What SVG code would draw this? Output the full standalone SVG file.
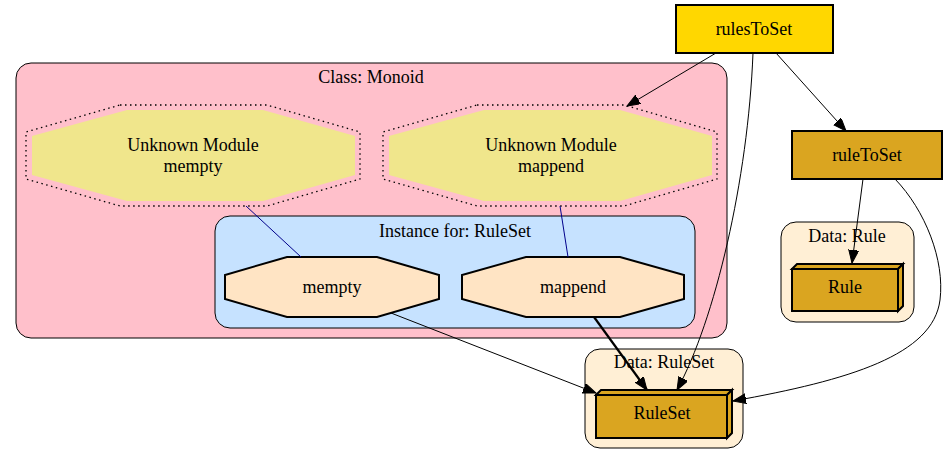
<svg xmlns="http://www.w3.org/2000/svg" width="947" height="465" viewBox="0 0 947 465">
<defs>
<style>
text{font-family:"Liberation Serif","Times New Roman",serif;font-size:18px;fill:#000;text-anchor:middle}
.cl{stroke:#000;stroke-width:1}
.bold{stroke:#000;stroke-width:2}
.dot{fill:none;stroke:#000;stroke-width:1.3;stroke-dasharray:1.5,3.5}
.e{fill:none;stroke:#000;stroke-width:1}
.eb{fill:none;stroke:#000;stroke-width:2.2}
.blue{fill:none;stroke:#00008b;stroke-width:1}
</style>
<marker id="ah" markerUnits="userSpaceOnUse" markerWidth="14" markerHeight="12" refX="13" refY="5" orient="auto">
<path d="M0,0 L13,5 L0,10 z" fill="#000" stroke="#000" stroke-width="1"/>
</marker>
</defs>
<rect width="947" height="465" fill="#fff"/>

<g id="cluster_monoid">
<rect class="cl" x="16" y="63" width="711" height="275" rx="15" fill="#ffc0cb"/>
<text x="371" y="83">Class: Monoid</text>
</g>
<g id="cluster_instance">
<rect class="cl" x="215" y="216" width="480" height="112" rx="15" fill="#c6e2ff"/>
<text x="455" y="237">Instance for: RuleSet</text>
</g>
<g id="cluster_rule">
<rect class="cl" x="781" y="222" width="133" height="100" rx="15" fill="#ffefd5"/>
<text x="847" y="242">Data: Rule</text>
</g>
<g id="cluster_ruleset">
<rect class="cl" x="585" y="349" width="158" height="99" rx="15" fill="#ffefd5"/>
<text x="664" y="368">Data: RuleSet</text>
</g>

<g id="unknown_mempty">
<polygon points="127,110 263,110 355,136 355,175 263,201 127,201 32,175 32,136" fill="#f0e68c"/>
<polygon class="dot" points="120,105 267,105 360,132 360,179 267,206 120,206 26,179 26,132"/>
<text x="193" y="151">Unknown Module</text>
<text x="193" y="172">mempty</text>
</g>
<g id="unknown_mappend">
<polygon points="484,110 620,110 712,136 712,175 620,201 484,201 389,175 389,136" fill="#f0e68c"/>
<polygon class="dot" points="477,105 624,105 717,132 717,179 624,206 477,206 383,179 383,132"/>
<text x="551" y="151">Unknown Module</text>
<text x="551" y="172">mappend</text>
</g>
<g id="mempty">
<polygon class="bold" points="287,257 377,257 439,275 439,299 377,317 287,317 225,299 225,275" fill="#ffe4c4"/>
<text x="332" y="293">mempty</text>
</g>
<g id="mappend">
<polygon class="bold" points="526,257 620,257 684,275 684,299 620,317 526,317 462,299 462,275" fill="#ffe4c4"/>
<text x="573" y="293">mappend</text>
</g>
<g id="rulesToSet">
<rect class="bold" x="676" y="5" width="157" height="48" fill="#ffd700"/>
<text x="754" y="35">rulesToSet</text>
</g>
<g id="ruleToSet">
<rect class="bold" x="792" y="131" width="150" height="48" fill="#daa520"/>
<text x="867" y="161">ruleToSet</text>
</g>
<g id="Rule">
<polygon class="bold" points="792,269 797,264 903,264 898,269" fill="#daa520"/>
<polygon class="bold" points="898,269 903,264 903,306 898,311" fill="#daa520"/>
<rect class="bold" x="792" y="269" width="106" height="42" fill="#daa520"/>
<text x="845" y="293">Rule</text>
</g>
<g id="RuleSet">
<polygon class="bold" points="596,395 601,390 732,390 727,395" fill="#daa520"/>
<polygon class="bold" points="727,395 732,390 732,433 727,438" fill="#daa520"/>
<rect class="bold" x="596" y="395" width="131" height="43" fill="#daa520"/>
<text x="662" y="419">RuleSet</text>
</g>

<g id="connectors">
<path class="blue" d="M246,206 L301,257"/>
<path class="blue" d="M560,206 L568,257"/>
<path class="e" marker-end="url(#ah)" d="M716,53 L627,106"/>
<path class="e" marker-end="url(#ah)" d="M753,53 C748,180 715,320 677,390"/>
<path class="e" marker-end="url(#ah)" d="M776,53 L846,131"/>
<path class="e" marker-end="url(#ah)" d="M863,179 L852,263"/>
<path class="e" marker-end="url(#ah)" d="M895,179 C925,210 945,260 940,300 C933,355 850,380 733,401"/>
<path class="e" marker-end="url(#ah)" d="M391,313 L596,393"/>
<path class="eb" marker-end="url(#ah)" d="M594,317 L647,390"/>
</g>
</svg>
